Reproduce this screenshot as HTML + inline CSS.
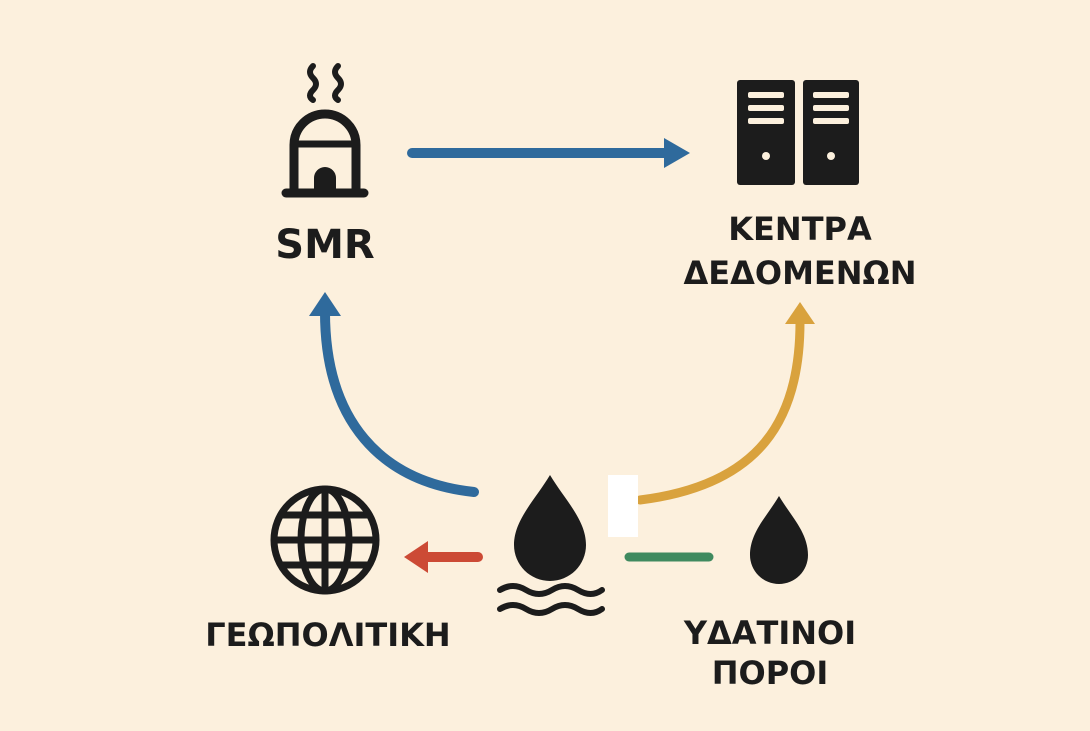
<!DOCTYPE html>
<html><head><meta charset="utf-8"><style>
html,body{margin:0;padding:0;background:#fcf0dd;}
svg{display:block}
text{font-family:"DejaVu Sans","Liberation Sans",sans-serif;font-weight:bold;fill:#1c1c1c;text-anchor:middle}
</style></head><body>
<svg width="1090" height="731" viewBox="0 0 1090 731">
<rect width="1090" height="731" fill="#fcf0dd"/>
<!-- SMR icon -->
<g fill="none" stroke="#1c1c1c" stroke-linecap="round">
<path d="M313 66 q-6 6 0 12 q6 6 0 12 q-6 6 0 10" stroke-width="6"/>
<path d="M338 66 q-6 6 0 12 q6 6 0 12 q-6 6 0 10" stroke-width="6"/>
<path d="M294 190 V145 a31 31 0 0 1 62 0 V190" stroke-width="9"/>
<line x1="294" y1="144" x2="356" y2="144" stroke-width="7"/>
<line x1="286" y1="193" x2="364" y2="193" stroke-width="9"/>
</g>
<path d="M314 193 V178 a11 11 0 0 1 22 0 V193 Z" fill="#1c1c1c"/>
<text x="325" y="258" font-size="40">SMR</text>
<!-- blue top arrow -->
<line x1="412" y1="153" x2="666" y2="153" stroke="#2f6a9c" stroke-width="10" stroke-linecap="round"/>
<polygon points="664,138 690,153 664,168" fill="#2f6a9c"/>
<!-- servers -->
<rect x="737" y="80" width="58" height="105" rx="3" fill="#1c1c1c"/>
<rect x="803" y="80" width="56" height="105" rx="3" fill="#1c1c1c"/>
<g fill="#fcf0dd">
<rect x="748" y="92" width="36" height="6" rx="2"/><rect x="748" y="105" width="36" height="6" rx="2"/><rect x="748" y="118" width="36" height="6" rx="2"/>
<rect x="813" y="92" width="36" height="6" rx="2"/><rect x="813" y="105" width="36" height="6" rx="2"/><rect x="813" y="118" width="36" height="6" rx="2"/>
<circle cx="766" cy="156" r="4"/><circle cx="831" cy="156" r="4"/>
</g>
<text x="800" y="240" font-size="32">ΚΕΝΤΡΑ</text>
<text x="800" y="284" font-size="32">ΔΕΔΟΜΕΝΩΝ</text>
<!-- curves -->
<path d="M474 492 C380 482 325 420 325 312" fill="none" stroke="#2f6a9c" stroke-width="10" stroke-linecap="round"/>
<polygon points="309,316 325,292 341,316" fill="#2f6a9c"/>
<path d="M640 500 C760 485 800 420 800 322" fill="none" stroke="#d9a23d" stroke-width="9" stroke-linecap="round"/>
<polygon points="785,324 800,302 815,324" fill="#d9a23d"/>
<rect x="608" y="475" width="30" height="62" fill="#ffffff"/>
<!-- center drop -->
<path d="M550 475 C535 500 514 520 514 545 a36 36 0 0 0 72 0 C586 520 565 500 550 475 Z" fill="#1c1c1c"/>
<g fill="none" stroke="#1c1c1c" stroke-width="6" stroke-linecap="round">
<path d="M500 590 q13 -8 26 0 t26 0 t26 0 t24 0"/>
<path d="M500 609 q13 -8 26 0 t26 0 t26 0 t24 0"/>
</g>
<!-- globe -->
<g fill="none" stroke="#1c1c1c" stroke-width="7">
<circle cx="325" cy="540" r="51"/>
<ellipse cx="325" cy="540" rx="24" ry="51"/>
<line x1="325" y1="489" x2="325" y2="591"/>
<line x1="274" y1="540" x2="376" y2="540"/>
<line x1="281" y1="515" x2="369" y2="515"/>
<line x1="281" y1="565" x2="369" y2="565"/>
</g>
<!-- red arrow -->
<line x1="478" y1="557" x2="425" y2="557" stroke="#cc4a35" stroke-width="10" stroke-linecap="round"/>
<polygon points="428,541 404,557 428,573" fill="#cc4a35"/>
<!-- green line -->
<line x1="629" y1="557" x2="709" y2="557" stroke="#3f8a5f" stroke-width="9" stroke-linecap="round"/>
<!-- right drop -->
<path d="M779 496 C768 515 750 532 750 555 a29 29 0 0 0 58 0 C808 532 790 515 779 496 Z" fill="#1c1c1c"/>
<text x="328" y="646" font-size="32">ΓΕΩΠΟΛΙΤΙΚΗ</text>
<text x="770" y="644" font-size="32">ΥΔΑΤΙΝΟΙ</text>
<text x="770" y="684" font-size="32">ΠΟΡΟΙ</text>
</svg>
</body></html>
